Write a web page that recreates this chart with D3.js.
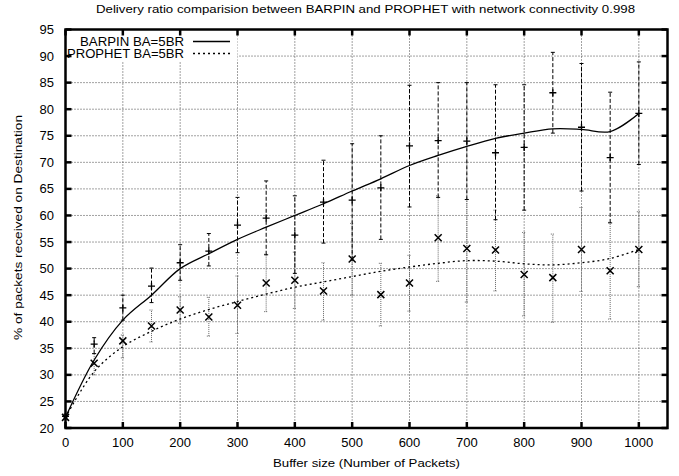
<!DOCTYPE html>
<html>
<head>
<meta charset="utf-8">
<script src="https://cdn.jsdelivr.net/npm/d3@7"></script>
<style>
  body { margin: 0; background: #fff; }
  text { font-family: "Liberation Sans", Arial, sans-serif; fill: #000; }
</style>
</head>
<body>
<script>
var w = 679, h = 476;

// buffer sizes (x)
var buffer = [0, 50, 100, 150, 200, 250, 300, 350, 400, 450, 500,
              550, 600, 650, 700, 750, 800, 850, 900, 950, 1000];

// BARPIN BA=5BR: mean and error range
var barpinMean = [22.2, 35.8, 42.6, 46.7, 51.1, 53.3, 58.2, 59.5, 56.3, 62.5, 62.9,
                  65.2, 73.1, 74.1, 74.0, 71.8, 72.8, 83.1, 76.6, 70.9, 79.2];
var barpinLow  = [22.0, 34.0, 40.3, 43.6, 47.8, 50.5, 53.0, 52.6, 49.1, 54.8, 51.6,
                  55.5, 61.6, 63.4, 63.0, 59.2, 61.0, 75.5, 64.6, 58.6, 69.6];
var barpinHigh = [22.6, 37.0, 45.0, 50.1, 54.5, 56.6, 63.4, 66.5, 63.7, 70.4, 73.5,
                  75.0, 84.5, 85.0, 85.0, 84.6, 84.6, 90.7, 88.6, 83.2, 88.9];

// PROPHET BA=5BR: mean and error range
var prophetMean = [22.0, 32.2, 36.4, 39.2, 42.2, 40.9, 43.1, 47.3, 47.8, 45.8, 51.8,
                   45.1, 47.3, 55.8, 53.8, 53.5, 48.9, 48.3, 53.6, 49.6, 53.6];
var prophetLow  = [21.8, 30.0, 33.2, 36.2, 39.7, 37.3, 37.8, 41.9, 42.5, 40.3, 45.0,
                   39.2, 42.0, 47.6, 43.7, 45.8, 41.1, 39.9, 45.7, 40.5, 46.6];
var prophetHigh = [22.3, 34.0, 37.5, 42.2, 44.7, 44.6, 48.6, 52.7, 53.1, 51.1, 58.5,
                   51.0, 52.5, 63.7, 63.0, 61.0, 56.8, 56.5, 61.5, 58.7, 60.7];

// smoothed fit curves, read at each buffer size
var barpinFit  = [22.0, 32.8, 40.3, 45.0, 50.0, 52.8, 55.5, 57.8, 60.0, 62.2, 64.6,
                  66.9, 69.4, 71.3, 73.0, 74.5, 75.5, 76.3, 76.2, 75.8, 79.2];
var prophetFit = [22.0, 30.6, 35.3, 38.2, 40.5, 42.3, 43.8, 45.2, 46.5, 47.5, 48.5,
                  49.5, 50.3, 51.0, 51.5, 51.4, 50.9, 50.7, 51.1, 51.9, 53.6];

var xTicks = [0, 100, 200, 300, 400, 500, 600, 700, 800, 900, 1000];
var yTicks = [20, 25, 30, 35, 40, 45, 50, 55, 60, 65, 70, 75, 80, 85, 90, 95];

var title = "Delivery ratio comparision between BARPIN and PROPHET with network connectivity 0.998";
var seriesNames = ["BARPIN BA=5BR", "PROPHET BA=5BR"];

var plotL = 65.5, plotR = 667.5, plotT = 29.5, plotB = 428;

var x = d3.scaleLinear().domain([0, 1050]).range([plotL, plotR]);
var y = d3.scaleLinear().domain([20, 95]).range([plotB, plotT]);

var svg = d3.select("body").append("svg")
            .attr("width", w)
            .attr("height", h);

// grid
svg.append("g").selectAll("line")
   .data(xTicks)
   .enter().append("line")
   .attr("x1", function(d) { return x(d); })
   .attr("x2", function(d) { return x(d); })
   .attr("y1", plotT)
   .attr("y2", plotB)
   .attr("stroke", "#444")
   .attr("stroke-width", 1)
   .attr("stroke-dasharray", "1,2");

svg.append("g").selectAll("line")
   .data(yTicks)
   .enter().append("line")
   .attr("x1", plotL)
   .attr("x2", plotR)
   .attr("y1", function(d) { return y(d); })
   .attr("y2", function(d) { return y(d); })
   .attr("stroke", "#444")
   .attr("stroke-width", 1)
   .attr("stroke-dasharray", "1,2");

// legend background
svg.append("rect")
   .attr("x", plotL)
   .attr("y", plotT)
   .attr("width", 172)
   .attr("height", 32)
   .attr("fill", "#fff");

// error bars
function errorBars(mean, low, high, dash, color, width) {
  var g = svg.append("g")
             .attr("stroke", color)
             .attr("stroke-width", width);
  g.selectAll(null)
   .data(buffer)
   .enter().append("line")
   .attr("x1", function(d) { return x(d); })
   .attr("x2", function(d) { return x(d); })
   .attr("y1", function(d, i) { return y(low[i]); })
   .attr("y2", function(d, i) { return y(high[i]); })
   .attr("stroke-dasharray", dash);
  [low, high].forEach(function(arr) {
    g.selectAll(null)
     .data(buffer)
     .enter().append("line")
     .attr("x1", function(d) { return x(d) - 2; })
     .attr("x2", function(d) { return x(d) + 2; })
     .attr("y1", function(d, i) { return y(arr[i]); })
     .attr("y2", function(d, i) { return y(arr[i]); })
     .attr("stroke-dasharray", dash === "1,1" ? "1,1" : null);
  });
}

errorBars(prophetMean, prophetLow, prophetHigh, "1,1", "#666", 1);
errorBars(barpinMean, barpinLow, barpinHigh, "4,2", "#000", 1);

// fit curves
var line = d3.line()
             .x(function(d) { return x(d[0]); })
             .y(function(d) { return y(d[1]); })
             .curve(d3.curveCatmullRom.alpha(0.5));

svg.append("path")
   .datum(d3.zip(buffer, barpinFit))
   .attr("d", line)
   .attr("fill", "none")
   .attr("stroke", "#000")
   .attr("stroke-width", 1.3);

svg.append("path")
   .datum(d3.zip(buffer, prophetFit))
   .attr("d", line)
   .attr("fill", "none")
   .attr("stroke", "#000")
   .attr("stroke-width", 1.3)
   .attr("stroke-dasharray", "2,3");

// markers: + for BARPIN, x for PROPHET
var s = 3.5;
var plus = svg.append("g").attr("stroke", "#000").attr("stroke-width", 1.3);
plus.selectAll(null).data(buffer).enter().append("path")
    .attr("d", function(d, i) {
      var cx = x(d), cy = y(barpinMean[i]);
      return "M" + (cx - s) + "," + cy + "H" + (cx + s) +
             "M" + cx + "," + (cy - s) + "V" + (cy + s);
    });

var cross = svg.append("g").attr("stroke", "#000").attr("stroke-width", 1.5);
cross.selectAll(null).data(buffer).enter().append("path")
     .attr("d", function(d, i) {
       var cx = x(d), cy = y(prophetMean[i]);
       return "M" + (cx - s) + "," + (cy - s) + "L" + (cx + s) + "," + (cy + s) +
              "M" + (cx - s) + "," + (cy + s) + "L" + (cx + s) + "," + (cy - s);
     });

// axes (ticks inward on all four sides)
var tickLen = 6;
var axisG = svg.append("g").attr("stroke", "#000").attr("stroke-width", 2.5);
axisG.selectAll(null).data(xTicks).enter().append("line")
     .attr("x1", function(d) { return x(d); })
     .attr("x2", function(d) { return x(d); })
     .attr("y1", plotB).attr("y2", plotB - tickLen);
axisG.selectAll(null).data(xTicks).enter().append("line")
     .attr("x1", function(d) { return x(d); })
     .attr("x2", function(d) { return x(d); })
     .attr("y1", plotT).attr("y2", plotT + tickLen);
axisG.selectAll(null).data(yTicks).enter().append("line")
     .attr("x1", plotL).attr("x2", plotL + tickLen)
     .attr("y1", function(d) { return y(d); })
     .attr("y2", function(d) { return y(d); });
axisG.selectAll(null).data(yTicks).enter().append("line")
     .attr("x1", plotR).attr("x2", plotR - tickLen)
     .attr("y1", function(d) { return y(d); })
     .attr("y2", function(d) { return y(d); });

svg.append("rect")
   .attr("x", plotL).attr("y", plotT)
   .attr("width", plotR - plotL).attr("height", plotB - plotT)
   .attr("fill", "none")
   .attr("stroke", "#000")
   .attr("stroke-width", 2.5);

// tick labels
svg.append("g").selectAll("text")
   .data(xTicks).enter().append("text")
   .attr("x", function(d) { return x(d); })
   .attr("y", 447)
   .attr("text-anchor", "middle")
   .attr("font-size", 13)
   .text(function(d) { return d; });

svg.append("g").selectAll("text")
   .data(yTicks).enter().append("text")
   .attr("x", 54)
   .attr("y", function(d) { return y(d) + 4.5; })
   .attr("text-anchor", "end")
   .attr("font-size", 13)
   .text(function(d) { return d; });

// titles (text widths stretched to the reference's)
svg.append("text")
   .attr("x", 96)
   .attr("y", 13)
   .attr("font-size", 10.8)
   .attr("textLength", 539)
   .attr("lengthAdjust", "spacingAndGlyphs")
   .text(title);

svg.append("text")
   .attr("x", 273)
   .attr("y", 466.5)
   .attr("font-size", 11.8)
   .attr("textLength", 187)
   .attr("lengthAdjust", "spacingAndGlyphs")
   .text("Buffer size (Number of Packets)");

svg.append("text")
   .attr("transform", "translate(22,340) rotate(-90)")
   .attr("font-size", 11.5)
   .attr("textLength", 225)
   .attr("lengthAdjust", "spacingAndGlyphs")
   .text("% of packets received on Destination");

// legend
var legendLen = [104, 117];
var legend = svg.append("g");
legend.selectAll("text")
      .data(seriesNames).enter().append("text")
      .attr("x", function(d, i) { return 184 - legendLen[i]; })
      .attr("y", function(d, i) { return 45.5 + i * 12.3; })
      .attr("font-size", 12.8)
      .attr("textLength", function(d, i) { return legendLen[i]; })
      .attr("lengthAdjust", "spacingAndGlyphs")
      .text(function(d) { return d; });

legend.selectAll("line")
      .data(seriesNames).enter().append("line")
      .attr("x1", 193).attr("x2", 230)
      .attr("y1", function(d, i) { return 41.5 + i * 12; })
      .attr("y2", function(d, i) { return 41.5 + i * 12; })
      .attr("stroke", "#000")
      .attr("stroke-width", 1.3)
      .attr("stroke-dasharray", function(d, i) { return i === 0 ? null : "2,3"; });
</script>
</body>
</html>
